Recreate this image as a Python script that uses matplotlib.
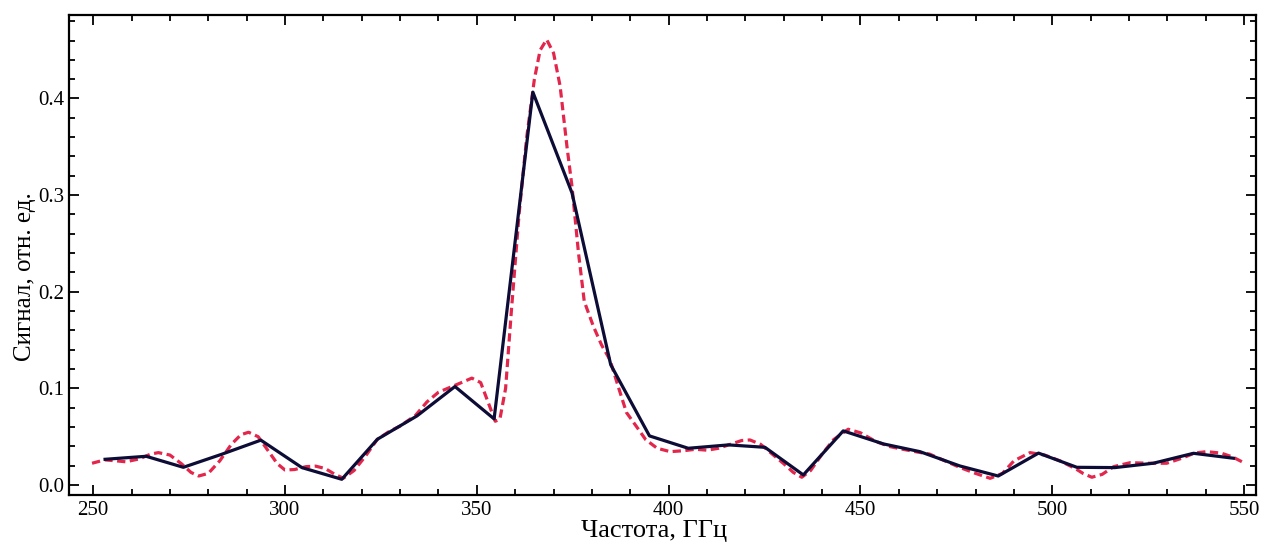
import matplotlib
matplotlib.use("Agg")
import matplotlib.pyplot as plt
from matplotlib.ticker import MultipleLocator

# Solid line (measured)
freq_meas = [253.1, 263.8, 273.5, 283.5, 293.7, 304.4, 314.8, 324.1, 334.4, 344.3,
             354.5, 364.6, 374.8, 384.9, 395.0, 405.1, 415.6, 425.1, 435.1, 445.5,
             456.0, 465.5, 475.9, 485.9, 496.4, 506.4, 516.3, 526.3, 536.8, 547.2]
sig_meas = [0.0266, 0.0297, 0.0183, 0.0318, 0.0464, 0.0180, 0.0059, 0.0474, 0.0715, 0.1019,
            0.0684, 0.4066, 0.3023, 0.1244, 0.0508, 0.0380, 0.0415, 0.0390, 0.0104, 0.0560,
            0.0425, 0.0345, 0.0197, 0.0093, 0.0330, 0.0183, 0.0180, 0.0225, 0.0328, 0.0277]

# Dashed line (calculated)
freq_calc = [249.7, 253, 256, 258.5, 262, 265, 267, 270, 273, 275.5, 277.5, 280, 283, 286,
             288.5, 290.5, 293, 295.5, 298, 300, 302.5, 305.5, 308, 310.5, 313, 315.2, 318,
             321, 324, 327, 330, 334, 337, 340, 343, 346, 348.7, 351, 353, 354.8, 356, 357.5,
             359, 361, 363, 365, 366.5, 368.2, 370, 371.7, 373.5, 374.8, 376.5, 378, 380.4,
             382.5, 384.7, 387, 389, 391.7, 394, 397, 400.4, 404, 407, 410, 413, 416, 419,
             421.2, 424, 427, 430, 432.5, 434.7, 437, 440, 443, 446.8, 450, 454, 457.7, 461,
             465, 468, 472, 476, 480, 483.8, 487, 490, 494.2, 498, 502, 506, 508, 510.3, 513,
             516, 520.3, 525, 529.8, 534, 537, 540.2, 544, 547, 549.4]
sig_calc = [0.0225, 0.026, 0.025, 0.024, 0.027, 0.032, 0.0335, 0.031, 0.022, 0.013, 0.0093,
            0.012, 0.025, 0.042, 0.052, 0.0546, 0.050, 0.036, 0.022, 0.0155, 0.016, 0.019,
            0.0195, 0.017, 0.011, 0.007, 0.015, 0.030, 0.047, 0.055, 0.061, 0.072, 0.086,
            0.096, 0.101, 0.106, 0.1106, 0.106, 0.085, 0.066, 0.068, 0.100, 0.180, 0.280,
            0.360, 0.420, 0.450, 0.461, 0.447, 0.413, 0.350, 0.309, 0.240, 0.190, 0.164,
            0.145, 0.1295, 0.100, 0.075, 0.060, 0.047, 0.038, 0.0345, 0.0355, 0.037, 0.036,
            0.038, 0.042, 0.046, 0.0466, 0.042, 0.032, 0.022, 0.013, 0.008, 0.015, 0.032,
            0.047, 0.0577, 0.054, 0.045, 0.0397, 0.037, 0.034, 0.032, 0.025, 0.018, 0.012,
            0.0069, 0.012, 0.025, 0.0335, 0.031, 0.025, 0.017, 0.012, 0.008, 0.011, 0.019,
            0.0231, 0.0225, 0.0225, 0.028, 0.033, 0.0345, 0.033, 0.029, 0.0241]

xticks = [250, 300, 350, 400, 450, 500, 550]
yticks = [0.0, 0.1, 0.2, 0.3, 0.4]

plt.rcParams['font.family'] = ['Liberation Serif', 'DejaVu Serif']

fig = plt.figure(figsize=(12.64, 5.44), dpi=100)
ax = fig.add_axes([0.0546, 0.090, 0.9391, 0.8824])

ax.plot(freq_calc, sig_calc, color='#e3264b', lw=2.3, dashes=(2.6, 1.4), zorder=2)
ax.plot(freq_meas, sig_meas, color='#0c0c36', lw=2.3, zorder=3)

ax.set_xlim(243.7, 553.1)
ax.set_ylim(-0.0104, 0.4864)
ax.set_xticks(xticks)
ax.set_xticklabels([str(t) for t in xticks])
ax.set_yticks(yticks)
ax.set_yticklabels([f"{t:.1f}" for t in yticks])
ax.xaxis.set_minor_locator(MultipleLocator(10))
ax.yaxis.set_minor_locator(MultipleLocator(0.02))
ax.tick_params(which='both', direction='in', top=True, right=True, width=1.3, labelsize=15)
ax.tick_params(which='major', length=7)
ax.tick_params(which='minor', length=4.5)
ax.tick_params(axis='x', pad=4)
for s in ax.spines.values():
    s.set_linewidth(1.6)

ax.set_xlabel('Частота, ГГц', fontsize=19)
ax.xaxis.set_label_coords(0.493, -0.098, transform=ax.transAxes)
ax.xaxis.label.set_va('bottom')
ax.set_ylabel('Сигнал, отн. ед.', fontsize=18)
ax.yaxis.set_label_coords(-0.028, 0.456, transform=ax.transAxes)

fig.savefig('out.png', dpi=100)
